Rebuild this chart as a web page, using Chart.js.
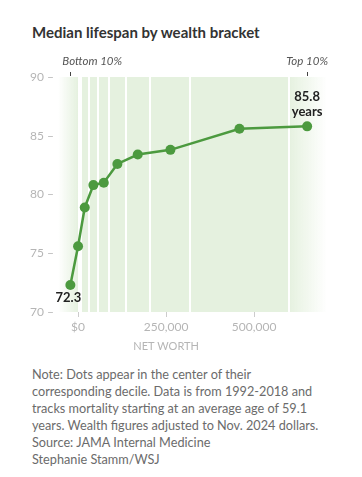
<!DOCTYPE html>
<html>
<head>
<meta charset="utf-8">
<script src="https://cdn.jsdelivr.net/npm/chart.js@4.4.1/dist/chart.umd.min.js"></script>
<style>
  body { margin: 0; background: #fff; font-family: Lato, "Noto Sans", sans-serif; }
  #wrap { position: relative; width: 362px; height: 477px; }
  #title { position: absolute; left: 32px; top: 23px; font-size: 15px; font-weight: 700; color: #333; }
  #chart { position: absolute; left: 0; top: 50px; }
  #note { position: absolute; left: 32px; top: 366px; font-size: 12.7px; line-height: 17px; color: #6b6b6b; }
</style>
</head>
<body>
<div id="wrap">
  <div id="title">Median lifespan by wealth bracket</div>
  <canvas id="chart" width="362" height="305"></canvas>
  <div id="note">
    Note: Dots appear in the center of their<br>
    corresponding decile. Data is from 1992-2018 and<br>
    tracks mortality starting at an average age of 59.1<br>
    years. Wealth figures adjusted to Nov. 2024 dollars.<br>
    Source: JAMA Internal Medicine<br>
    Stephanie Stamm/WSJ
  </div>
</div>
<script>
// ===== Data =====
// net worth at the center of each decile (dollars)
const decileWorth = [-21900, 0, 19000, 43500, 73000, 111700, 169500, 262300, 458300, 650600];
// median lifespan in years
const lifespan = [72.3, 75.6, 78.9, 80.8, 81.0, 82.6, 83.4, 83.8, 85.6, 85.8];
// boundaries between deciles (dollars)
const decileEdges = [2000, 9400, 29800, 56800, 88100, 135500, 205400, 316800, 598000];
const xTicks = [0, 250000, 500000];
const yTicks = [70, 75, 80, 85, 90];

const GREEN = "#4c9a3f";
const FILL = "229, 241, 223";

// Shaded decile bands behind the line
const bandsPlugin = {
  id: "bands",
  beforeDatasetsDraw(chart) {
    const { ctx, chartArea } = chart;
    const x = chart.scales.x;
    const { left, right, top, bottom } = chartArea;
    const w = right - left;
    const grad = ctx.createLinearGradient(left, 0, right, 0);
    grad.addColorStop(0, `rgba(${FILL}, 0)`);
    grad.addColorStop((x.getPixelForValue(0) - left) / w, `rgba(${FILL}, 1)`);
    grad.addColorStop((x.getPixelForValue(decileEdges[decileEdges.length - 1]) - left) / w, `rgba(${FILL}, 1)`);
    grad.addColorStop(1, `rgba(${FILL}, 0)`);
    ctx.save();
    ctx.fillStyle = grad;
    ctx.fillRect(left, top, w, bottom - top);
    ctx.strokeStyle = "#fff";
    ctx.lineWidth = 2;
    decileEdges.forEach(function (v) {
      const px = Math.round(x.getPixelForValue(v));
      ctx.beginPath();
      ctx.moveTo(px, top);
      ctx.lineTo(px, bottom);
      ctx.stroke();
    });
    ctx.restore();
  }
};

// Labels: bottom/top decile markers, value labels, axis title
const labelsPlugin = {
  id: "labels",
  afterDraw(chart) {
    const { ctx, chartArea } = chart;
    const x = chart.scales.x;
    const y = chart.scales.y;
    const n = decileWorth.length;
    const x0 = x.getPixelForValue(decileWorth[0]);
    const x1 = x.getPixelForValue(decileWorth[n - 1]);
    ctx.save();
    // marker ticks
    ctx.strokeStyle = "#444";
    ctx.lineWidth = 1;
    [x0, x1].forEach(function (px) {
      ctx.beginPath();
      ctx.moveTo(Math.round(px) + 0.5, chartArea.top - 5);
      ctx.lineTo(Math.round(px) + 0.5, chartArea.top - 1);
      ctx.stroke();
    });
    ctx.fillStyle = "#555";
    ctx.font = "italic 11.5px Lato";
    ctx.textBaseline = "middle";
    ctx.textAlign = "left";
    ctx.fillText("Bottom 10%", x0 - 8, chartArea.top - 16);
    ctx.textAlign = "center";
    ctx.fillText("Top 10%", x1, chartArea.top - 16);

    // value labels
    ctx.fillStyle = "#222";
    ctx.font = "bold 13px Lato";
    ctx.fillText(lifespan[0].toFixed(1), x0 - 2, y.getPixelForValue(lifespan[0]) + 13);
    const yLast = y.getPixelForValue(lifespan[n - 1]);
    ctx.fillText(lifespan[n - 1].toFixed(1), x1, yLast - 30);
    ctx.fillText("years", x1, yLast - 15);

    // axis title
    ctx.fillStyle = "#b5b5b5";
    ctx.font = "11px Lato";
    ctx.fillText("NET WORTH", x.getPixelForValue(250000), chartArea.bottom + 34);
    ctx.restore();
  }
};

new Chart(document.getElementById("chart"), {
  type: "line",
  data: {
    datasets: [{
      data: decileWorth.map(function (v, i) { return { x: v, y: lifespan[i] }; }),
      borderColor: GREEN,
      borderWidth: 2.5,
      pointRadius: 5,
      pointHoverRadius: 5,
      pointBackgroundColor: GREEN,
      pointBorderWidth: 0,
      tension: 0,
      clip: false
    }]
  },
  options: {
    responsive: false,
    devicePixelRatio: 1,
    animation: false,
    layout: { padding: { top: 27, right: 35, left: 0, bottom: 0 } },
    plugins: { legend: { display: false }, tooltip: { enabled: false } },
    scales: {
      x: {
        type: "linear",
        min: -57000,
        max: 707000,
        afterFit: function (scale) { scale.height = 43; },
        afterBuildTicks: function (scale) {
          scale.ticks = xTicks.map(function (v) { return { value: v }; });
        },
        grid: { drawOnChartArea: false, tickLength: 5, color: "#ccc" },
        border: { display: false },
        ticks: {
          padding: 3,
          color: "#b5b5b5",
          font: { family: "Lato", size: 12 },
          maxRotation: 0,
          callback: function (v) { return v === 0 ? "$0" : v.toLocaleString("en-US"); }
        }
      },
      y: {
        min: 70,
        max: 90,
        afterFit: function (scale) { scale.width = 58; },
        afterBuildTicks: function (scale) {
          scale.ticks = yTicks.map(function (v) { return { value: v }; });
        },
        grid: { display: false, drawTicks: false },
        border: { display: false },
        ticks: {
          padding: 4,
          color: "#b5b5b5",
          font: { family: "Lato", size: 12 },
          callback: function (v) { return v + " \u2013"; }
        }
      }
    }
  },
  plugins: [bandsPlugin, labelsPlugin]
});
</script>
</body>
</html>
